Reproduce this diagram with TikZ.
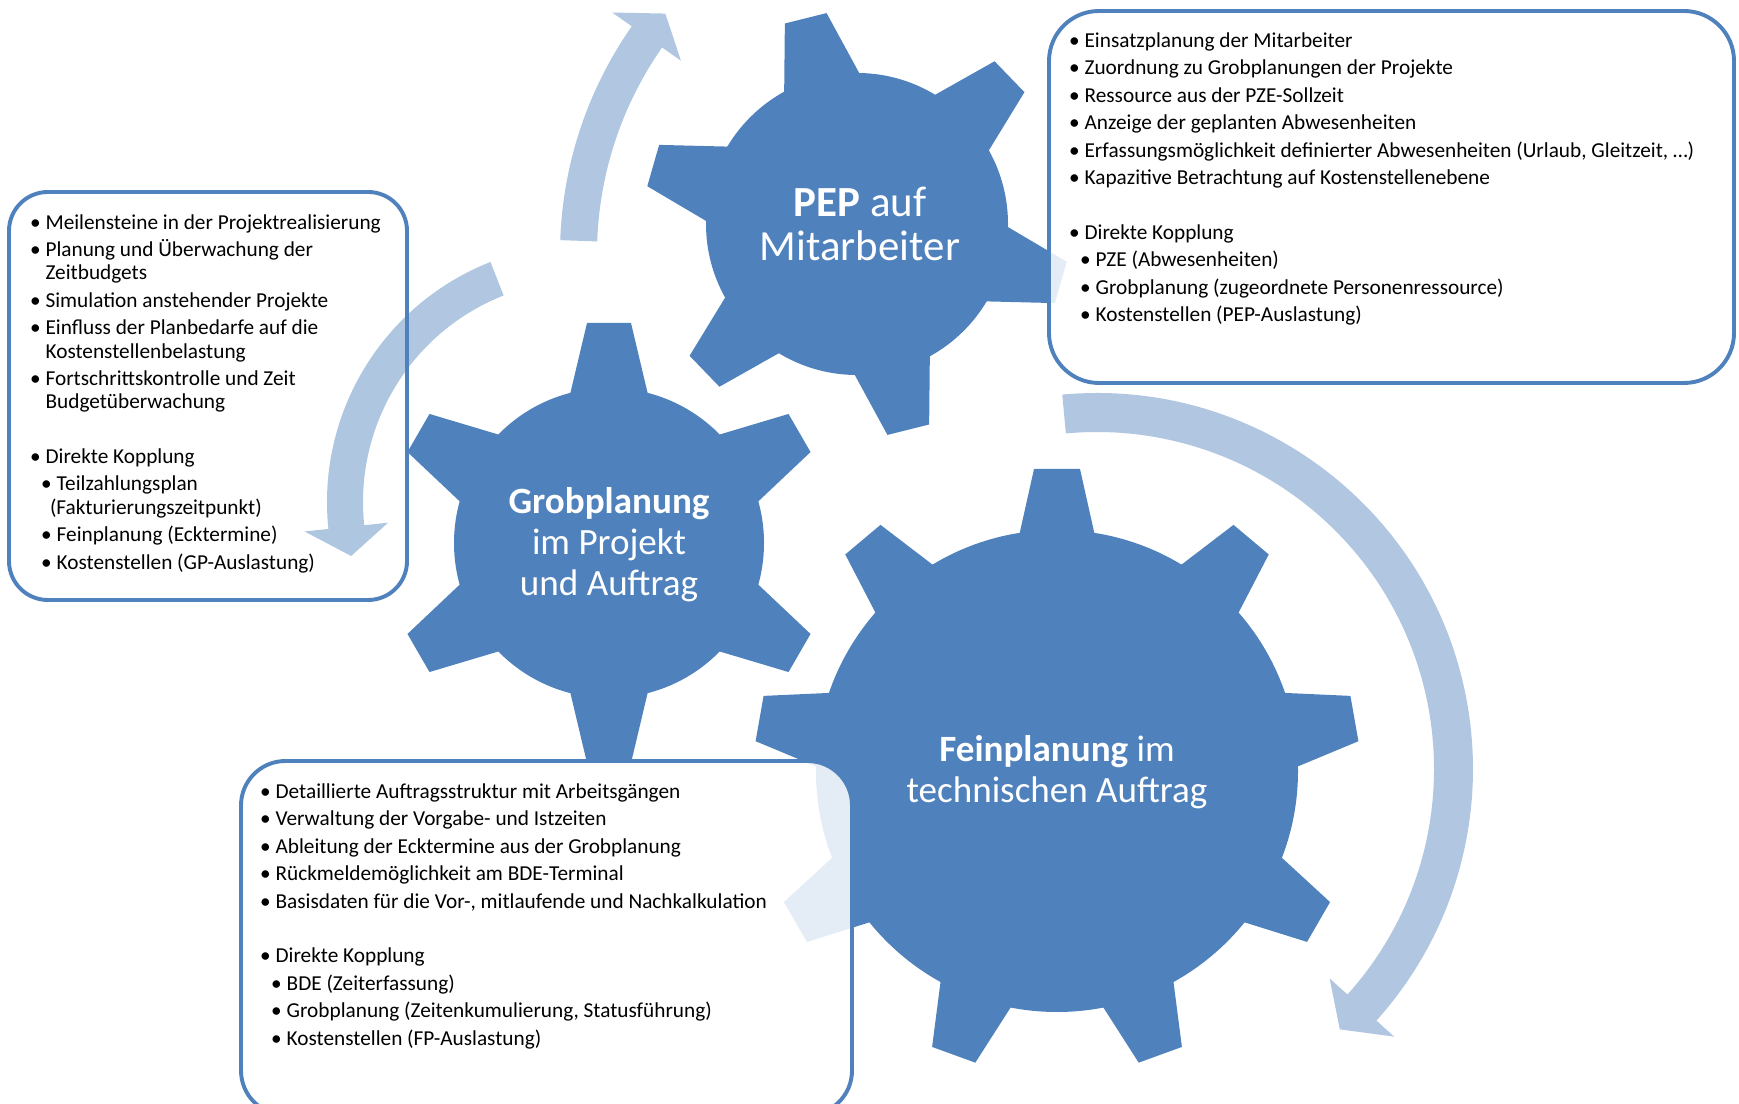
\documentclass[tikz,border=0pt]{standalone}
\usepackage{fontspec}
\setmainfont{Carlito}
\usetikzlibrary{positioning}
\definecolor{gearblue}{RGB}{79,129,189}

\newcommand{\bitem}[1]{\makebox[0.22cm][l]{\hspace*{-0.06cm}\textbullet}#1}
\newcommand{\bsub}[1]{\hspace*{0.2cm}\makebox[0.22cm][l]{\hspace*{-0.06cm}\textbullet}#1}

\tikzset{
  gearfill/.style={fill=gearblue},
  gearlabel/.style={text=white,align=center,font=\fontsize{19}{21}\selectfont},
  listbox/.style={draw=gearblue,line width=2pt,fill=white,fill opacity=0.85},
  listtext/.style={anchor=north west,inner sep=0pt,align=left,font=\fontsize{10.9}{11.9}\selectfont},
  turnarrow/.style={fill=gearblue,fill opacity=0.45},
}

\begin{document}
\begin{tikzpicture}[x=0.018cm,y=0.018cm]
\useasboundingbox (0,0) rectangle (1739,-1104);
% gears: body circle plus trapezoid teeth
\begin{scope}[shift={(857,-224)}]
  \fill[gearfill] (0,0) circle (151);
  \foreach \a in {44,104,...,344}
    \fill[gearfill,rotate=\a] (137,-41) -- (212,-21.5) -- (212,21.5) -- (137,41) -- cycle;
\end{scope}
\begin{scope}[shift={(609,-543)}]
  \fill[gearfill] (0,0) circle (155);
  \foreach \a in {30,90,...,330}
    \fill[gearfill,rotate=\a] (140,-41) -- (220,-22) -- (220,22) -- (140,41) -- cycle;
\end{scope}
\begin{scope}[shift={(1057,-771)}]
  \fill[gearfill] (0,0) circle (241);
  \foreach \a in {10,50,...,330}
    \fill[gearfill,rotate=\a] (226,-40) -- (302,-23) -- (302,23) -- (226,40) -- cycle;
\end{scope}
% list boxes (half see-through over the gears)
\draw[listbox,rounded corners=0.9cm] (1049,-11) rectangle (1734,-383);
\draw[listbox,rounded corners=0.7cm] (9,-192) rectangle (407,-600);
\draw[listbox,rounded corners=0.8cm] (241,-761) rectangle (852,-1115);
% turning arrows
\begin{scope}[shift={(957,-254)}]
  \fill[turnarrow] (178:397) arc[start angle=178,end angle=145,radius=397] -- (145:421)
    -- (140.5:378) -- (145:337) -- (145:360) arc[start angle=145,end angle=178,radius=360] -- cycle;
\end{scope}
\begin{scope}[shift={(585,-502)}]
  \fill[turnarrow] (111.5:258) arc[start angle=111.5,end angle=186,radius=258] -- (186:282)
    -- (193:240) -- (186:198) -- (186:222) arc[start angle=186,end angle=111.5,radius=222] -- cycle;
\end{scope}
\begin{scope}[shift={(1097,-769)}]
  \fill[turnarrow] (95.3:376) arc[start angle=95.3,end angle=-42,radius=376] -- (-42:400)
    -- (-47:356) -- (-42:313) -- (-42:337) arc[start angle=-42,end angle=95.3,radius=337] -- cycle;
\end{scope}
% gear labels
\node[gearlabel,font=\fontsize{22}{22.7}\selectfont] (pepText) at (860,-224) {\textbf{PEP} auf\\Mitarbeiter};
\node[gearlabel] (grobText) at (609,-545) {\textbf{Grobplanung}\\im Projekt\\und Auftrag};
\node[gearlabel] (feinText) at (1057,-772) {\textbf{Feinplanung} im\\technischen Auftrag};
% lists
\node[listtext] (pepList) at (1072,-32) {%
  \bitem{Einsatzplanung der Mitarbeiter}\\[2.2pt]
  \bitem{Zuordnung zu Grobplanungen der Projekte}\\[2.2pt]
  \bitem{Ressource aus der PZE-Sollzeit}\\[2.2pt]
  \bitem{Anzeige der geplanten Abwesenheiten}\\[2.2pt]
  \bitem{Erfassungsmöglichkeit definierter Abwesenheiten (Urlaub, Gleitzeit, …)}\\[2.2pt]
  \bitem{Kapazitive Betrachtung auf Kostenstellenebene}\\[16pt]
  \bitem{Direkte Kopplung}\\[2.2pt]
  \bsub{PZE (Abwesenheiten)}\\[2.2pt]
  \bsub{Grobplanung (zugeordnete Personenressource)}\\[2.2pt]
  \bsub{Kostenstellen (PEP-Auslastung)}};
\node[listtext] (grobList) at (33,-214) {%
  \bitem{Meilensteine in der Projektrealisierung}\\[2.2pt]
  \bitem{Planung und Überwachung der}\\
  \hspace*{0.22cm}Zeitbudgets\\[2.2pt]
  \bitem{Simulation anstehender Projekte}\\[2.2pt]
  \bitem{Einfluss der Planbedarfe auf die}\\
  \hspace*{0.22cm}Kostenstellenbelastung\\[2.2pt]
  \bitem{Fortschrittskontrolle und Zeit}\\
  \hspace*{0.22cm}Budgetüberwachung\\[16pt]
  \bitem{Direkte Kopplung}\\[2.2pt]
  \bsub{Teilzahlungsplan}\\
  \hspace*{0.3cm}(Fakturierungszeitpunkt)\\[2.2pt]
  \bsub{Feinplanung (Ecktermine)}\\[2.2pt]
  \bsub{Kostenstellen (GP-Auslastung)}};
\node[listtext] (feinList) at (263,-783) {%
  \bitem{Detaillierte Auftragsstruktur mit Arbeitsgängen}\\[2.2pt]
  \bitem{Verwaltung der Vorgabe- und Istzeiten}\\[2.2pt]
  \bitem{Ableitung der Ecktermine aus der Grobplanung}\\[2.2pt]
  \bitem{Rückmeldemöglichkeit am BDE-Terminal}\\[2.2pt]
  \bitem{Basisdaten für die Vor-, mitlaufende und Nachkalkulation}\\[16pt]
  \bitem{Direkte Kopplung}\\[2.2pt]
  \bsub{BDE (Zeiterfassung)}\\[2.2pt]
  \bsub{Grobplanung (Zeitenkumulierung, Statusführung)}\\[2.2pt]
  \bsub{Kostenstellen (FP-Auslastung)}};
\end{tikzpicture}
\end{document}
